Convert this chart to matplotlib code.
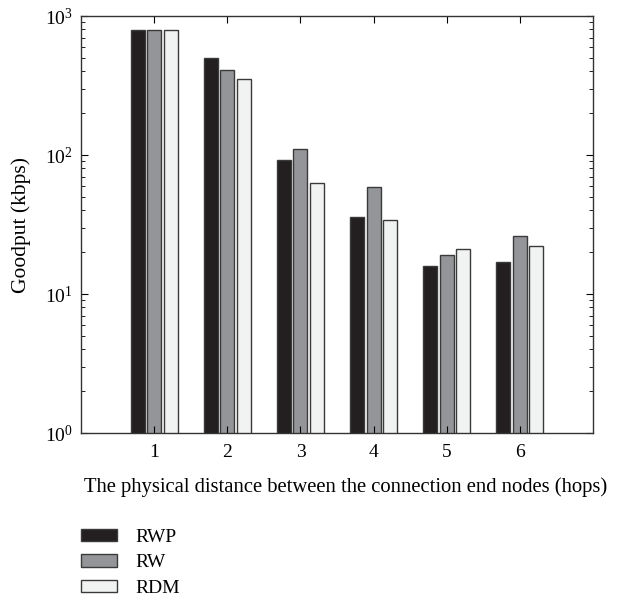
import numpy as np
import matplotlib
matplotlib.use("Agg")
import matplotlib.pyplot as plt
from matplotlib.ticker import LogLocator, NullFormatter

# ── DATA ──────────────────────────────────────────────────
hops = [1, 2, 3, 4, 5, 6]
rwp = [795, 500, 92, 36, 16, 17]
rw = [795, 410, 110, 59, 19, 26]
rdm = [795, 352, 63, 34, 21, 22]

series = ["RWP", "RW", "RDM"]
colors = ["#231f20", "#939598", "#f1f2f2"]

plt.rcParams['font.family'] = ['Liberation Serif', 'DejaVu Serif']

fig = plt.figure(figsize=(6.21, 6.0), dpi=100)
ax = fig.add_axes([0.1304, 0.2783, 0.8246, 0.695])

x = np.array(hops)
width = 0.19
offset = 0.225
for i, (vals, col, name) in enumerate(zip([rwp, rw, rdm], colors, series)):
    ax.bar(x + (i - 1) * offset, vals, width, color=col, edgecolor="#3a3a3a",
           linewidth=1.0, label=name)

ax.set_yscale("log")
ax.set_ylim(1, 1000)
ax.set_xlim(0, 7)
ax.set_xticks(hops)
ax.yaxis.set_major_locator(LogLocator(base=10, numticks=10))
ax.yaxis.set_minor_locator(LogLocator(base=10, subs=np.arange(2, 10), numticks=10))
ax.yaxis.set_minor_formatter(NullFormatter())

ax.tick_params(which="both", direction="in", top=True, right=True, labelsize=14)
ax.tick_params(which="major", length=5)
ax.tick_params(which="minor", length=3)
ax.tick_params(axis="x", pad=8)
ax.tick_params(axis="y", pad=6)
for s in ax.spines.values():
    s.set_linewidth(1.0)
    s.set_color("#333333")

ax.set_xlabel("The physical distance between the connection end nodes (hops)",
              fontsize=14.85)
ax.xaxis.set_label_coords(0.516, -0.105)
ax.set_ylabel("Goodput (kbps)", fontsize=15.5, labelpad=10)

fig.legend(loc="upper left", bbox_to_anchor=(0.118, 0.132), frameon=False,
           fontsize=14, handlelength=1.85, handleheight=0.6, labelspacing=0.45,
           handletextpad=0.95, borderaxespad=0)

fig.savefig("out.png", dpi=100)
